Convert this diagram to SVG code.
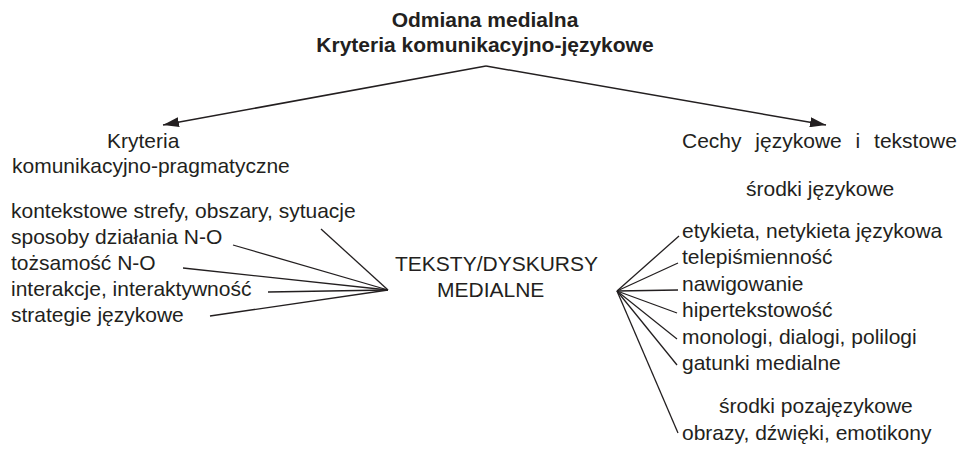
<svg xmlns="http://www.w3.org/2000/svg" width="963" height="451" viewBox="0 0 963 451">
  <defs>
    <style>
      text { font-family: "Liberation Sans", Arial, sans-serif; font-size: 21px; fill: #231f20; }
      .title { font-weight: bold; text-anchor: middle; }
      .conn { stroke: #231f20; stroke-width: 1.3; fill: none; }
      .arrow { stroke: #231f20; stroke-width: 1.5; fill: none; marker-end: url(#ah); }
    </style>
    <marker id="ah" viewBox="0 0 16 10" refX="16" refY="5" markerWidth="16" markerHeight="10" markerUnits="userSpaceOnUse" orient="auto">
      <path d="M0,0 L16,5 L0,10 z" fill="#231f20"/>
    </marker>
  </defs>
  <rect width="963" height="451" fill="#ffffff"/>

  <g id="connectors">
    <line class="arrow" x1="486" y1="66" x2="163" y2="125"/>
    <line class="arrow" x1="486" y1="66" x2="826" y2="125"/>
    <line class="conn" x1="321" y1="229" x2="388" y2="290"/>
    <line class="conn" x1="233" y1="245" x2="388" y2="290"/>
    <line class="conn" x1="183" y1="268" x2="388" y2="290"/>
    <line class="conn" x1="268" y1="292" x2="388" y2="290"/>
    <line class="conn" x1="210" y1="316" x2="388" y2="290"/>
    <line class="conn" x1="617" y1="291" x2="679" y2="236"/>
    <line class="conn" x1="617" y1="291" x2="678" y2="263"/>
    <line class="conn" x1="617" y1="291" x2="678" y2="290"/>
    <line class="conn" x1="617" y1="291" x2="677" y2="313"/>
    <line class="conn" x1="617" y1="291" x2="677" y2="339"/>
    <line class="conn" x1="617" y1="291" x2="677" y2="365"/>
    <line class="conn" x1="617" y1="291" x2="678" y2="433"/>
  </g>

  <g id="root">
    <text class="title" x="485" y="27">Odmiana medialna</text>
    <text class="title" x="485" y="52">Kryteria komunikacyjno-językowe</text>
  </g>

  <g id="left-head">
    <text x="107" y="148">Kryteria</text>
    <text x="12" y="173">komunikacyjno-pragmatyczne</text>
  </g>

  <g id="right-head">
    <text x="682" y="148" word-spacing="8">Cechy językowe i tekstowe</text>
    <text x="746" y="196">środki językowe</text>
  </g>

  <g id="left-list">
    <text x="11" y="218">kontekstowe strefy, obszary, sytuacje</text>
    <text x="11" y="244">sposoby działania N-O</text>
    <text x="11" y="270">tożsamość N-O</text>
    <text x="11" y="296">interakcje, interaktywność</text>
    <text x="11" y="322">strategie językowe</text>
  </g>

  <g id="center">
    <text x="395" y="271">TEKSTY/DYSKURSY</text>
    <text x="437" y="297">MEDIALNE</text>
  </g>

  <g id="right-list">
    <text x="682" y="238">etykieta, netykieta językowa</text>
    <text x="682" y="264">telepiśmienność</text>
    <text x="682" y="291">nawigowanie</text>
    <text x="682" y="317">hipertekstowość</text>
    <text x="682" y="344">monologi, dialogi, polilogi</text>
    <text x="682" y="370">gatunki medialne</text>
  </g>

  <g id="right-extra">
    <text x="719" y="413">środki pozajęzykowe</text>
    <text x="682" y="440">obrazy, dźwięki, emotikony</text>
  </g>
</svg>
